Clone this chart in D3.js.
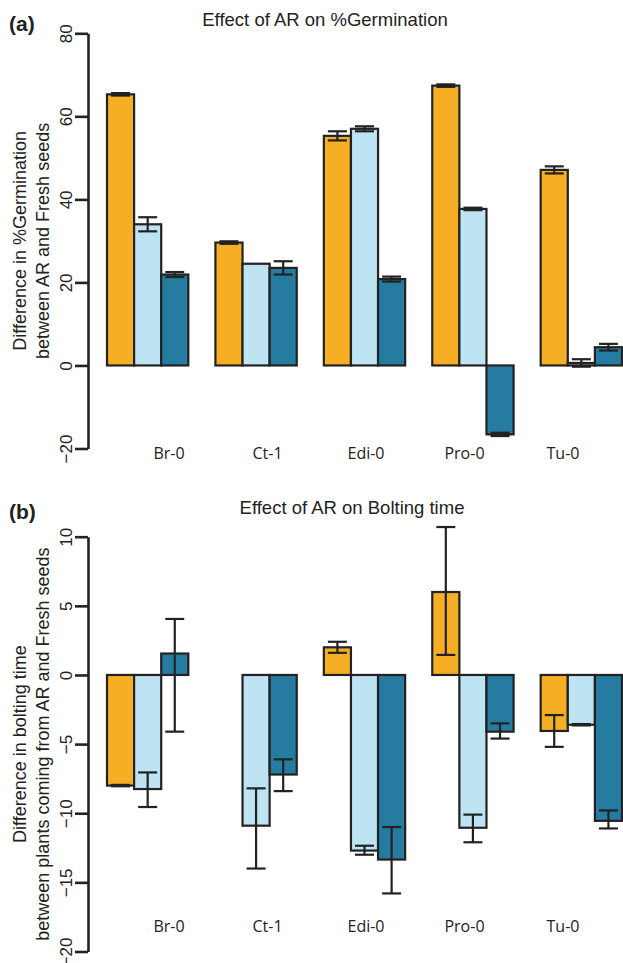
<!DOCTYPE html>
<html>
<head>
<meta charset="utf-8">
<script src="https://cdn.jsdelivr.net/npm/d3@7/dist/d3.min.js"></script>
<style>
  html, body { margin: 0; padding: 0; background: #fff; }
  svg { display: block; }
</style>
</head>
<body>
<svg id="chart" width="623" height="963"></svg>
<script>
// ---------- DATA ----------
const categories = ["Br-0", "Ct-1", "Edi-0", "Pro-0", "Tu-0"];
const seriesNames = ["s1", "s2", "s3"];

// Panel (a): Effect of AR on %Germination
const germS1 = [65.3, 29.6, 55.3, 67.4, 47.1];
const germS2 = [34.0, 24.5, 57.0, 37.7, 0.6];
const germS3 = [21.9, 23.5, 20.8, -16.6, 4.4];
const germErrS1 = [0.3, 0.3, 1.1, 0.3, 0.85];
const germErrS2 = [1.7, 0, 0.6, 0.3, 0.9];
const germErrS3 = [0.6, 1.6, 0.6, 0.4, 0.8];
const germTicks = [-20, 0, 20, 40, 60, 80];

// Panel (b): Effect of AR on Bolting time
const boltS1 = [-8.0, 0, 2.0, 6.0, -4.05];
const boltS2 = [-8.25, -10.9, -12.7, -11.05, -3.6];
const boltS3 = [1.55, -7.2, -13.35, -4.1, -10.55];
const boltLoS1 = [-8.05, 0, 1.6, 1.45, -5.2];
const boltHiS1 = [-7.95, 0, 2.4, 10.7, -2.9];
const boltLoS2 = [-9.55, -14.0, -13.0, -12.1, -3.65];
const boltHiS2 = [-7.05, -8.2, -12.35, -10.1, -3.55];
const boltLoS3 = [-4.1, -8.4, -15.8, -4.6, -11.1];
const boltHiS3 = [4.05, -6.1, -11.0, -3.5, -9.8];
const boltTicks = [-20, -15, -10, -5, 0, 5, 10];

const colors = ["#F6AE24", "#BEE4F3", "#267BA1"];
const ink = "#222222";

// ---------- BUILD ----------
const svg = d3.select("#chart");

const x0 = d3.scaleBand().domain(categories).range([107, 622]).paddingInner(0.25).paddingOuter(0);
const x1 = d3.scaleBand().domain(seriesNames).range([0, x0.bandwidth()]).padding(0);
const xLab = d3.scalePoint().domain(categories).range([169, 563]);
const color = d3.scaleOrdinal().domain(seriesNames).range(colors);

function buildRows(vals, lo, hi) {
  const rows = [];
  categories.forEach((c, i) => {
    seriesNames.forEach((s, j) => {
      rows.push({cat: c, ser: s, v: vals[j][i], lo: lo[j][i], hi: hi[j][i]});
    });
  });
  return rows;
}

function panel(opts) {
  const g = svg.append("g");
  const y = d3.scaleLinear().domain(opts.domain).range(opts.range);

  // bars
  g.selectAll("rect.bar").data(opts.rows).enter().append("rect")
    .attr("class", "bar")
    .attr("x", d => x0(d.cat) + x1(d.ser))
    .attr("width", x1.bandwidth())
    .attr("y", d => Math.min(y(d.v), y(0)))
    .attr("height", d => Math.abs(y(d.v) - y(0)))
    .attr("fill", d => color(d.ser))
    .attr("stroke", ink)
    .attr("stroke-width", 2.2);

  // error bars
  const eb = opts.rows.filter(d => d.hi - d.lo > 0.001);
  const ex = d => x0(d.cat) + x1(d.ser) + x1.bandwidth() / 2;
  const cap = 9.5;
  const eg = g.append("g").attr("stroke", ink).attr("stroke-width", 2.2);
  eg.selectAll("line.v").data(eb).enter().append("line")
    .attr("x1", ex).attr("x2", ex)
    .attr("y1", d => y(d.lo)).attr("y2", d => y(d.hi));
  eg.selectAll("line.t").data(eb).enter().append("line")
    .attr("x1", d => ex(d) - cap).attr("x2", d => ex(d) + cap)
    .attr("y1", d => y(d.hi)).attr("y2", d => y(d.hi));
  eg.selectAll("line.b").data(eb).enter().append("line")
    .attr("x1", d => ex(d) - cap).attr("x2", d => ex(d) + cap)
    .attr("y1", d => y(d.lo)).attr("y2", d => y(d.lo));

  // y axis
  const ax = g.append("g").attr("transform", "translate(88,0)")
    .call(d3.axisLeft(y).tickValues(opts.ticks).tickSize(13).tickSizeOuter(0).tickFormat(d3.format("d")));
  ax.select(".domain").attr("stroke", ink).attr("stroke-width", 2.6);
  ax.selectAll(".tick line").attr("stroke", ink).attr("stroke-width", 2.6);
  ax.selectAll(".tick text")
    .attr("x", null).attr("dy", null)
    .attr("text-anchor", "middle")
    .attr("transform", "translate(-16,0) rotate(-90)")
    .attr("fill", ink)
    .style("font-family", "'Liberation Sans', Arial, sans-serif")
    .style("font-size", "17px");

  // category labels
  g.selectAll("text.cat").data(categories).enter().append("text")
    .attr("class", "cat")
    .attr("x", d => xLab(d)).attr("y", opts.catY)
    .attr("text-anchor", "middle")
    .attr("fill", ink)
    .style("font-family", "'Open Sans', sans-serif")
    .style("font-size", "16px")
    .text(d => d);

  // title
  g.append("text").attr("x", opts.titleX).attr("y", opts.titleY)
    .attr("text-anchor", "middle").attr("fill", ink)
    .style("font-family", "'Liberation Sans', Arial, sans-serif")
    .style("font-size", "18.5px")
    .text(opts.title);

  // panel letter
  g.append("text").attr("x", 9).attr("y", opts.letterY)
    .attr("fill", ink)
    .style("font-family", "'Liberation Sans', Arial, sans-serif")
    .style("font-size", "21px").style("font-weight", "bold")
    .text(opts.letter);

  // y title (two lines)
  const cy = (opts.range[0] + opts.range[1]) / 2;
  opts.ylab.forEach((t, i) => {
    g.append("text")
      .attr("transform", `translate(${26 + i * 23},${cy}) rotate(-90)`)
      .attr("text-anchor", "middle").attr("fill", ink)
      .style("font-family", "'Liberation Sans', Arial, sans-serif")
      .style("font-size", "18px")
      .text(t);
  });
}

panel({
  rows: buildRows([germS1, germS2, germS3],
    [germS1.map((v, i) => v - germErrS1[i]), germS2.map((v, i) => v - germErrS2[i]), germS3.map((v, i) => v - germErrS3[i])],
    [germS1.map((v, i) => v + germErrS1[i]), germS2.map((v, i) => v + germErrS2[i]), germS3.map((v, i) => v + germErrS3[i])]),
  domain: [-20, 80], range: [448.5, 33.3], ticks: germTicks,
  catY: 459, title: "Effect of AR on %Germination", titleX: 325, titleY: 26,
  letter: "(a)", letterY: 31,
  ylab: ["Difference in %Germination", "between AR and Fresh seeds"]
});

panel({
  rows: buildRows([boltS1, boltS2, boltS3], [boltLoS1, boltLoS2, boltLoS3], [boltHiS1, boltHiS2, boltHiS3]),
  domain: [-20, 10], range: [951.5, 536.7], ticks: boltTicks,
  catY: 932, title: "Effect of AR on Bolting time", titleX: 352, titleY: 514,
  letter: "(b)", letterY: 519,
  ylab: ["Difference in bolting time", "between plants coming from AR and Fresh seeds"]
});
</script>
</body>
</html>
